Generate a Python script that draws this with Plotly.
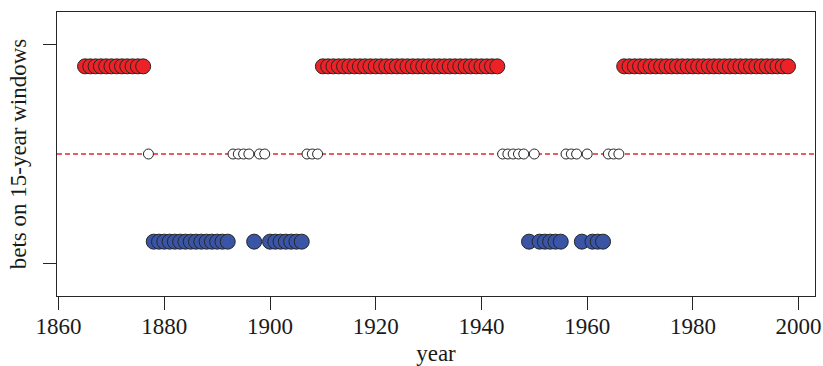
import plotly.graph_objects as go

# Years with each bet outcome on 15-year windows
red_years = [1865, 1866, 1867, 1868, 1869, 1870, 1871, 1872, 1873, 1874, 1875, 1876,
             1910, 1911, 1912, 1913, 1914, 1915, 1916, 1917, 1918, 1919, 1920, 1921,
             1922, 1923, 1924, 1925, 1926, 1927, 1928, 1929, 1930, 1931, 1932, 1933,
             1934, 1935, 1936, 1937, 1938, 1939, 1940, 1941, 1942, 1943,
             1967, 1968, 1969, 1970, 1971, 1972, 1973, 1974, 1975, 1976, 1977, 1978,
             1979, 1980, 1981, 1982, 1983, 1984, 1985, 1986, 1987, 1988, 1989, 1990,
             1991, 1992, 1993, 1994, 1995, 1996, 1997, 1998]
white_years = [1877, 1893, 1894, 1895, 1896, 1898, 1899, 1907, 1908, 1909,
               1944, 1945, 1946, 1947, 1948, 1950, 1956, 1957, 1958, 1960,
               1964, 1965, 1966]
blue_years = [1878, 1879, 1880, 1881, 1882, 1883, 1884, 1885, 1886, 1887, 1888,
              1889, 1890, 1891, 1892, 1897, 1900, 1901, 1902, 1903, 1904, 1905,
              1906, 1949, 1951, 1952, 1953, 1954, 1955, 1959, 1961, 1962, 1963]
red_value = 1
white_value = 0
blue_value = -1

x_ticks = [1860, 1880, 1900, 1920, 1940, 1960, 1980, 2000]
y_ticks = [-1.25, 1.25]

font_family = "Liberation Serif"
edge = "#262626"

fig = go.Figure()
fig.add_trace(go.Scatter(
    x=red_years, y=[red_value] * len(red_years), mode="markers",
    marker=dict(size=15, color="#EC2227", line=dict(color=edge, width=1)),
    showlegend=False, hoverinfo="x"))
fig.add_trace(go.Scatter(
    x=white_years, y=[white_value] * len(white_years), mode="markers",
    marker=dict(size=10, color="white", line=dict(color=edge, width=1)),
    showlegend=False, hoverinfo="x"))
fig.add_trace(go.Scatter(
    x=blue_years, y=[blue_value] * len(blue_years), mode="markers",
    marker=dict(size=15, color="#3A55A6", line=dict(color=edge, width=1)),
    showlegend=False, hoverinfo="x"))

fig.add_shape(type="line", xref="paper", yref="y", x0=0, x1=1, y0=0, y1=0,
              line=dict(color="#E8262C", width=1.3, dash="5px,3px"), layer="below")

fig.update_layout(
    width=823, height=366,
    margin=dict(l=57, r=8, t=12, b=70),
    paper_bgcolor="white", plot_bgcolor="white",
    font=dict(family=font_family, size=23, color="#1a1a1a"),
    xaxis=dict(
        range=[1859.7, 2003.1], tickvals=x_ticks, automargin=False,
        ticks="outside", ticklen=13, tickcolor=edge, tickwidth=1,
        ticklabelstandoff=-4, ticklabeloverflow="allow",
        showline=True, mirror=True, linecolor=edge, linewidth=1,
        showgrid=False, zeroline=False,
        tickfont=dict(size=23),
        title=dict(text="year", font=dict(size=23), standoff=8),
    ),
    yaxis=dict(
        range=[-1.62, 1.62], tickvals=y_ticks, ticktext=["", ""], automargin=False,
        ticks="outside", ticklen=13, tickcolor=edge, tickwidth=1,
        showline=True, mirror=True, linecolor=edge, linewidth=1,
        showgrid=False, zeroline=False,
        title=dict(text="bets on 15-year windows", font=dict(size=23), standoff=5),
    ),
)

# remove the browser's default page margin so the figure fills the window exactly
fig.write_html("out.html",
               config={"displayModeBar": False},
               post_script="document.body.style.margin='0';document.body.style.overflow='hidden';")
